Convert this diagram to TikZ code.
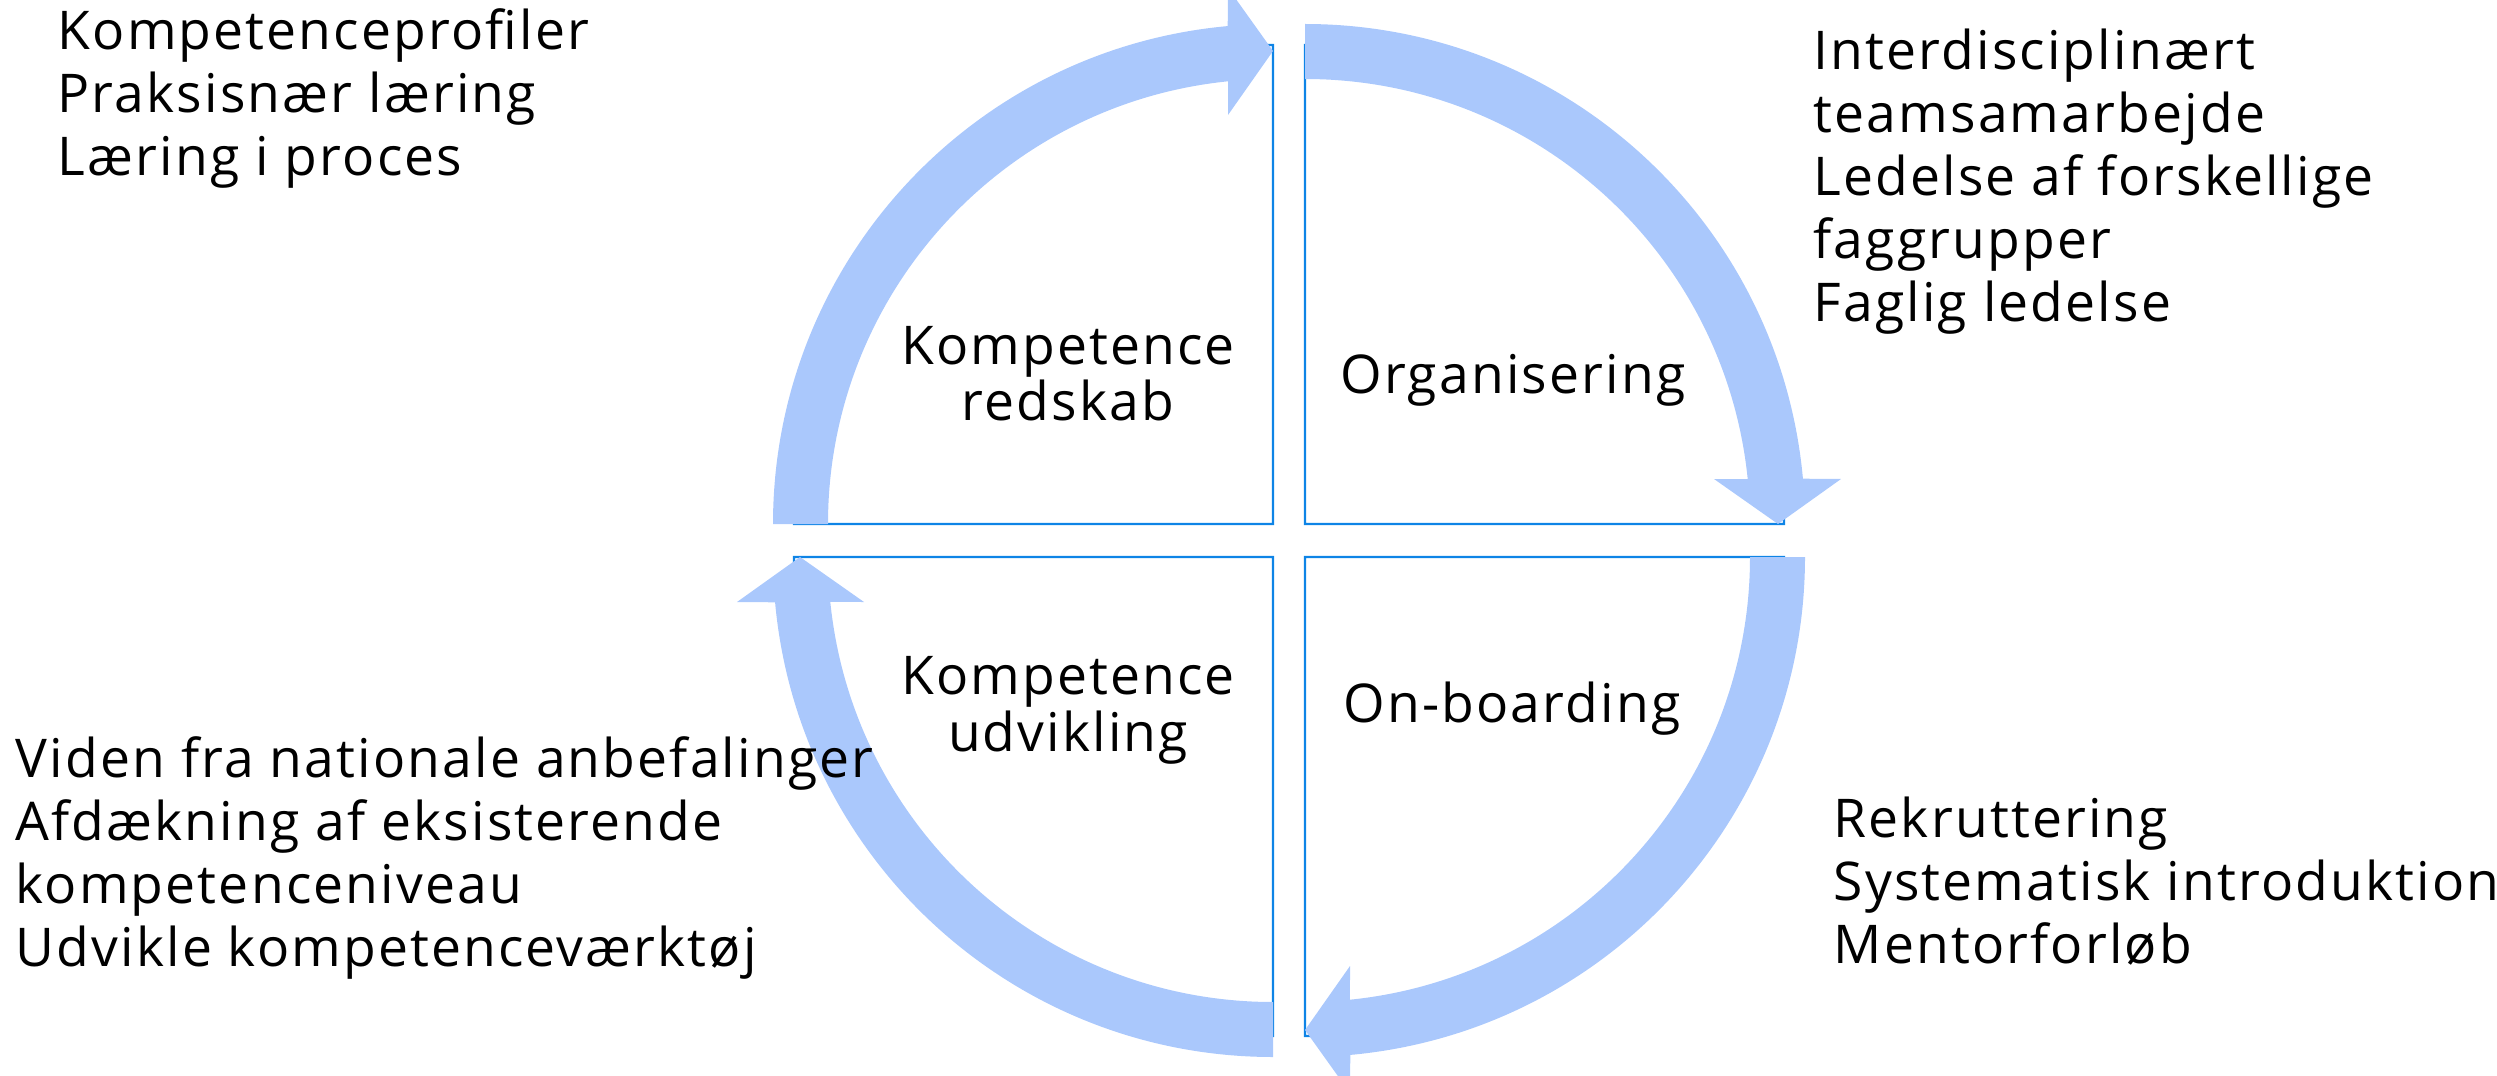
\documentclass[tikz,border=0pt]{standalone}
\usepackage{fontspec}
\setmainfont{Open Sans}[LetterSpace=4]
\usetikzlibrary{positioning}
\definecolor{flowblue}{RGB}{170,200,252}
\definecolor{edgeblue}{RGB}{14,132,230}

\begin{document}
\begin{tikzpicture}[x=0.1mm,y=-0.1mm,
  flow/.style={fill=flowblue},
  quarter/.style={draw=edgeblue,line width=0.22mm},
  listtext/.style={anchor=base west,inner sep=0pt,font=\fontsize{15.2}{17}\selectfont},
  quadtext/.style={anchor=base,inner sep=0pt,font=\fontsize{15.2}{17}\selectfont},
  nextline/.style={below=6.3mm of #1.base west,anchor=base west},
  nextrow/.style={below=5.7mm of #1.base,anchor=base}]
  \useasboundingbox (0,0) rectangle (2497,1076);

  % corners of the four quarters
  \coordinate (ctl) at (1273,524);
  \coordinate (ctr) at (1305,524);
  \coordinate (cbr) at (1305,557);
  \coordinate (cbl) at (1273,557);

  % quarter sectors
  \draw[quarter] (ctl) -- ++(-479,0) arc[start angle=180,end angle=270,radius=479] -- cycle;
  \draw[quarter] (ctr) -- ++(0,-479) arc[start angle=270,end angle=360,radius=479] -- cycle;
  \draw[quarter] (cbr) -- ++(479,0) arc[start angle=0,end angle=90,radius=479] -- cycle;
  \draw[quarter] (cbl) -- ++(0,479) arc[start angle=90,end angle=180,radius=479] -- cycle;

  % circular arrows
  \fill[flow,shift={(ctl)}] (180:500) arc[start angle=180,end angle=264.8,radius=500]
    -- (-45,-536) -- (0,-473) -- (-45,-409) -- (264.2:445)
    arc[start angle=264.2,end angle=180,radius=445] -- cycle;
  \fill[flow,shift={(ctr)}] (270:500) arc[start angle=270,end angle=354.8,radius=500]
    -- (536,-45) -- (473,0) -- (409,-45) -- (354.2:445)
    arc[start angle=354.2,end angle=270,radius=445] -- cycle;
  \fill[flow,shift={(cbr)}] (0:500) arc[start angle=0,end angle=84.8,radius=500]
    -- (45,536) -- (0,473) -- (45,409) -- (84.2:445)
    arc[start angle=84.2,end angle=0,radius=445] -- cycle;
  \fill[flow,shift={(cbl)}] (90:500) arc[start angle=90,end angle=174.8,radius=500]
    -- (-536,45) -- (-473,0) -- (-409,45) -- (174.2:445)
    arc[start angle=174.2,end angle=90,radius=445] -- cycle;

  % quarter titles
  \node[quadtext] (redskab1) at (1068,364) {Kompetence};
  \node[quadtext,nextrow=redskab1] (redskab2) {redskab};
  \node[quadtext] (organ) at (1513,393) {Organisering};
  \node[quadtext] (udvik1) at (1068,694) {Kompetence};
  \node[quadtext,nextrow=udvik1] (udvik2) {udvikling};
  \node[quadtext] (onboard) at (1512,722) {On-boarding};

  % lists
  \node[listtext] (tl1) at (57,50) {Kompetenceprofiler};
  \node[listtext,nextline=tl1] (tl2) {Praksisnær læring};
  \node[listtext,nextline=tl2] (tl3) {Læring i proces};

  \node[listtext] (tr1) at (1813,70) {Interdisciplinært};
  \node[listtext,nextline=tr1] (tr2) {teamsamarbejde};
  \node[listtext,nextline=tr2] (tr3) {Ledelse af forskellige};
  \node[listtext,nextline=tr3] (tr4) {faggrupper};
  \node[listtext,nextline=tr4] (tr5) {Faglig ledelse};

  \node[listtext] (bl1) at (15,777) {Viden fra nationale anbefalinger};
  \node[listtext,nextline=bl1] (bl2) {Afdækning af eksisterende};
  \node[listtext,nextline=bl2] (bl3) {kompetenceniveau};
  \node[listtext,nextline=bl3] (bl4) {Udvikle kompetenceværktøj};

  \node[listtext] (br1) at (1833,837) {Rekruttering};
  \node[listtext,nextline=br1] (br2) {Systematisk introduktion};
  \node[listtext,nextline=br2] (br3) {Mentorforløb};
\end{tikzpicture}
\end{document}
